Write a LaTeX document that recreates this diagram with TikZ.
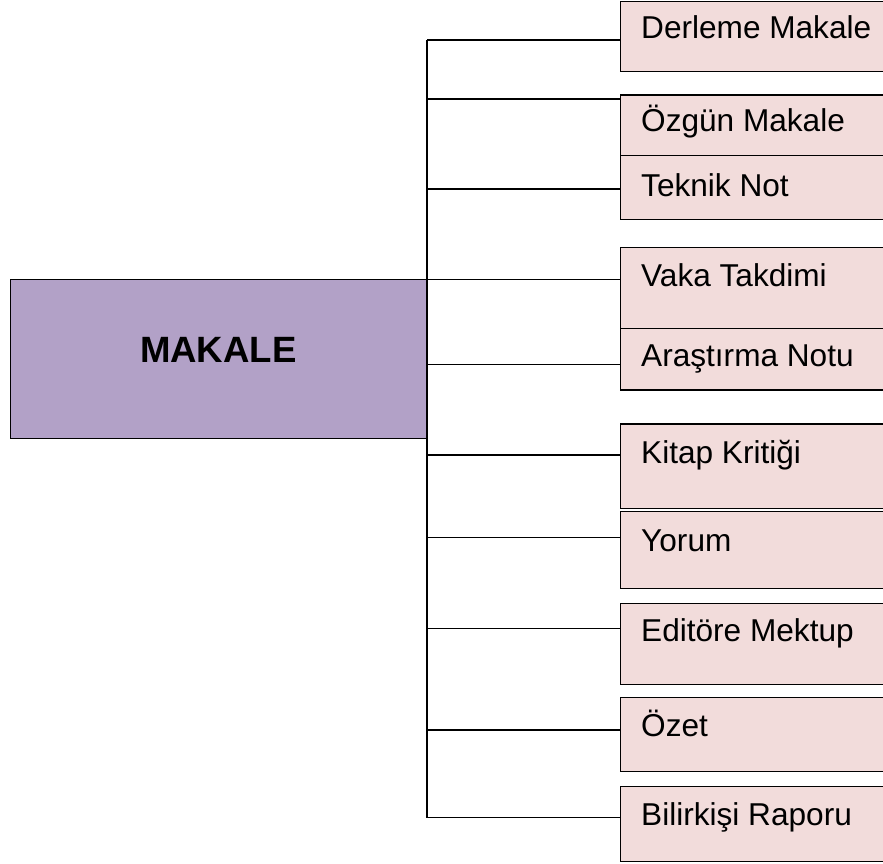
\documentclass[tikz,border=0pt]{standalone}
\usepackage{fontspec}
\setmainfont{Liberation Sans}
\definecolor{mainfill}{HTML}{B2A1C7}
\definecolor{subfill}{HTML}{F2DCDB}
\begin{document}
\begin{tikzpicture}[x=1pt,y=-1pt,
  conn/.style={draw=black, line width=1.4pt},
  mainbox/.style={draw=black, fill=mainfill, anchor=north west, inner sep=0pt,
    minimum width=417pt, minimum height=159pt, line width=1.4pt},
  maintext/.style={anchor=base, inner sep=0pt, font=\bfseries\fontsize{36.6}{40}\selectfont},
  subbox/.style={draw=black, fill=subfill, anchor=north west, inner sep=0pt,
    minimum width=300pt, line width=1.4pt},
  subtext/.style={anchor=base west, inner sep=0pt, font=\fontsize{31.6}{36}\selectfont}]
\clip (0,0) rectangle (883,863);
\fill[white] (0,0) rectangle (883,863);
% main box
\node[mainbox] (main) at (10,279) {};
\node[maintext] (maintxt) at (218.3,362.7) {MAKALE};
% sub boxes
\node[subbox, minimum height=70pt]   (b1)  at (619.5,0.7)   {};
\node[subbox, minimum height=60.7pt] (b2)  at (619.5,94.3)  {};
\node[subbox, minimum height=64pt]   (b3)  at (619.5,155)   {};
\node[subbox, minimum height=81pt]   (b4)  at (619.5,246.7) {};
\node[subbox, minimum height=61.6pt] (b5)  at (619.5,327.7) {};
\node[subbox, minimum height=84.4pt] (b6)  at (619.5,423.3) {};
\node[subbox, minimum height=77pt]   (b7)  at (619.5,510.7) {};
\node[subbox, minimum height=81.3pt] (b8)  at (619.5,602.7) {};
\node[subbox, minimum height=74.3pt] (b9)  at (619.5,696.7) {};
\node[subbox, minimum height=75pt]   (b10) at (619.5,785.7) {};
% texts
\path (b1.north west)  ++(21.5,38)   node[subtext] (t1)  {Derleme Makale};
\path (b2.north west)  ++(21.5,37.5) node[subtext] (t2)  {Özgün Makale};
\path (b3.north west)  ++(21.5,41.5) node[subtext] (t3)  {Teknik Not};
\path (b4.north west)  ++(21.5,40)   node[subtext] (t4)  {Vaka Takdimi};
\path (b5.north west)  ++(21.5,39)   node[subtext] (t5)  {Araştırma Notu};
\path (b6.north west)  ++(21.5,40.5) node[subtext] (t6)  {Kitap Kritiği};
\path (b7.north west)  ++(21.5,40.3) node[subtext] (t7)  {Yorum};
\path (b8.north west)  ++(21.5,39)   node[subtext] (t8)  {Editöre Mektup};
\path (b9.north west)  ++(21.5,40)   node[subtext] (t9)  {Özet};
\path (b10.north west) ++(21.5,39.3) node[subtext] (t10) {Bilirkişi Raporu};
% trunk coordinates
\coordinate (c1)  at (427,40);
\coordinate (c2)  at (427,99);
\coordinate (c3)  at (427,189);
\coordinate (c4)  at (427,279.3);
\coordinate (c5)  at (427,364.3);
\coordinate (c6)  at (427,455);
\coordinate (c7)  at (427,537.7);
\coordinate (c8)  at (427,628.3);
\coordinate (c9)  at (427,730);
\coordinate (c10) at (427,817.7);
% trunk
\draw[conn] (c1) -- (c10);
% branches
\foreach \i in {1,...,10} {
  \draw[conn] (c\i) -- (c\i -| b\i.west);
}
\end{tikzpicture}
\end{document}
